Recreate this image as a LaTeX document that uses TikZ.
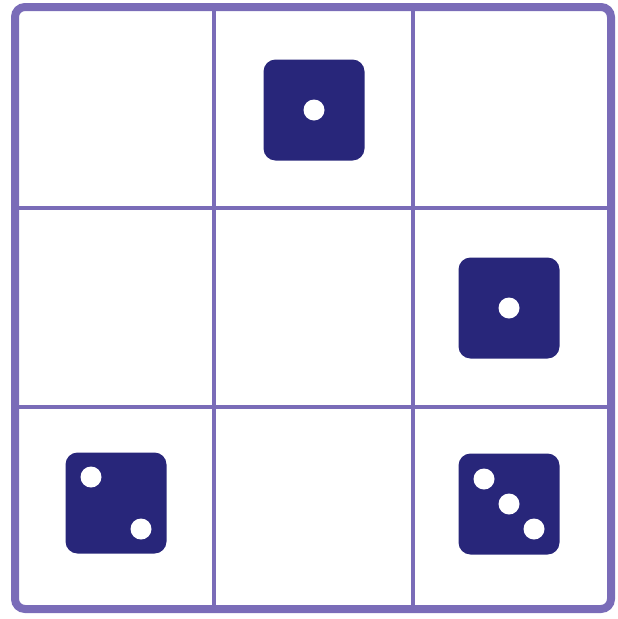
\documentclass[tikz,border=0pt]{standalone}
\usepackage{tikz}
\usetikzlibrary{positioning, calc}
\definecolor{framepurple}{RGB}{122,108,184}
\definecolor{dienavy}{RGB}{40,38,122}

\begin{document}
\begin{tikzpicture}[
    x=1pt, y=-1pt,
    gridline/.style = {draw=framepurple, line width=3.5pt},
    board/.style    = {draw=framepurple, line width=8pt, rounded corners=10pt},
    die/.style      = {fill=dienavy, rounded corners=12pt,
                       minimum size=101pt, inner sep=0pt},
    pip/.style      = {circle, fill=white, minimum size=21pt, inner sep=0pt},
  ]
  \useasboundingbox (0,0) rectangle (618,619);
  % grid lines
  \foreach \gx in {214,413}
    \draw[gridline] (\gx,7) -- (\gx,609);
  \foreach \gy in {208,407}
    \draw[gridline] (15,\gy) -- (611,\gy);
  % outer frame
  \draw[board] (15,7) rectangle (611,609);
  % dice
  \node[die] (topdie)   at (314,110) {};
  \node[die] (rightdie) at (509,308) {};
  \node[die] (twodie)   at (116,503) {};
  \node[die] (threedie) at (509,504) {};
  % pips
  \node[pip] at (topdie.center) {};
  \node[pip] at (rightdie.center) {};
  \node[pip] at ($(twodie.center)+(-25,-26)$) {};
  \node[pip] at ($(twodie.center)+(25,26)$) {};
  \foreach \k in {-1,0,1}
    \node[pip] at ($(threedie.center)+(25*\k,25*\k)$) {};
\end{tikzpicture}
\end{document}
